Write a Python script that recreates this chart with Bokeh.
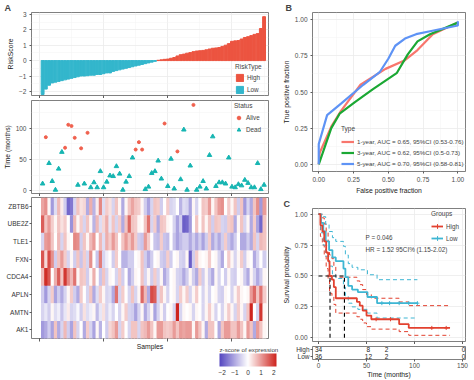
import numpy as np
from bokeh.plotting import figure
from bokeh.layouts import row, column
from bokeh.models import (ColumnDataSource, FixedTicker, Range1d, FactorRange, LinearColorMapper,
                          ColorBar, Label, Title, NumeralTickFormatter)
from bokeh.transform import transform
from bokeh.embed import file_html
from bokeh.resources import INLINE

# ---------------- data ----------------
risk_low = [-2.2, -1.85, -1.6, -1.45, -1.4, -1.35, -1.3, -1.25, -1.2, -1.15, -1.1, -1.05, -1.0, -1.0,
            -0.98, -0.95, -0.95, -0.9, -0.9, -0.85, -0.8, -0.8, -0.7, -0.65, -0.6, -0.55, -0.5, -0.45,
            -0.4, -0.35, -0.3, -0.25, -0.2, -0.15, -0.1, -0.05]
risk_high = [0.02, 0.05, 0.08, 0.1, 0.15, 0.2, 0.3, 0.38, 0.42, 0.48, 0.52, 0.58, 0.62, 0.64, 0.66,
             0.7, 0.75, 0.8, 0.82, 0.85, 0.92, 1.0, 1.1, 1.25, 1.28, 1.3, 1.4, 1.5, 1.55, 1.62, 1.7,
             1.75, 2.08, 2.85]

surv_time = [11, 86, 44, 15, 1, 35, 62, 69, 106, 104, 85, 9, 68, 11, 93, 5, 13, 5, 31, 5,
             14, 24, 23, 39, 27, 1, 14, 23, 53, 66, 78, 66, 2, 6, 28, 31, 48, 19, 108, 7,
             51, 3, 63, 18, 98, 1, 40, 138, 1, 6, 15, 3, 57, 87, 7, 13, 13, 11, 53, 6,
             5, 10, 8, 17, 12, 5, 5, 44, 2, 9]
surv_status = [1, 0, 1, 1, 1, 1, 1, 0, 0, 0, 0, 1, 0, 1, 0, 1, 1, 1, 1, 1,
               1, 1, 1, 1, 1, 1, 1, 1, 1, 0, 0, 0, 1, 1, 1, 1, 1, 1, 0, 1,
               1, 1, 0, 1, 1, 1, 1, 0, 1, 1, 1, 1, 1, 1, 1, 1, 1, 1, 1, 1,
               1, 1, 1, 1, 1, 1, 1, 1, 1, 1]  # 1 = Dead, 0 = Alive

genes = ["ZBTB6", "UBE2Z", "TLE1", "FXN", "CDCA4", "APLN", "AMTN", "AK1"]
expr_ZBTB6 = ([0.9, 1.1, 0.1, -1.2, -0.4, 0.7, 0.2, -0.6, -1.8, -1.6, -0.5, 0.6, 0.3, 0.4, -1.0, 0.8, -0.9, 0.2, 1.2, -0.4, 0.5, 0.3]
              + [-0.5, 0.6, 0.1, -1.0, 0.1, 0.6, 0.9, 0.6, 0.5, 0.1, -0.6, -1.1, -0.5, 0.6, 0.5, -0.6, 0.0, 0.5, -0.5, -0.4, 0.0, -0.9, -0.4]
              + [-0.5, -1.1, 0.1, -0.5, 0.0, 0.6, 0.5, 1.0, 0.1, 0.6, 1.0, 1.1, 0.0, 0.5, 0.1, 0.6, -0.6, 0.6, -1.2, -0.5, -1.0, 0.6, 1.1, -1.2, 1.0])
expr_UBE2Z = ([1.6, 0.6, 1.0, 0.5, 0.1, 0.6, 0.3, 0.5, 0.0, -1.3, 0.7, 0.1, 0.5, -0.5, 0.6, 0.1, -0.9, 0.7, -0.4, 0.4, 0.8, -0.3]
              + [0.6, -0.5, 0.5, -1.0, 0.6, 1.5, 0.6, 0.5, 0.1, 0.0, 0.6, 1.4, -0.5, 0.5, -1.0, 0.6, 0.5, 0.1, 0.0, -0.5, -1.1, -0.6, -1.9]
              + [-1.8, -1.2, 0.0, 0.6, 0.0, 0.6, 0.1, 0.6, -0.6, 0.6, 0.5, -0.5, -0.6, 0.5, 0.6, -1.0, 0.1, 0.6, -0.5, 0.1, -1.0, 0.5, -1.1, -1.8, 0.6])
expr_TLE1 = ([-0.5, 1.0, 1.1, 0.6, 0.0, 0.7, -0.5, 0.6, 0.1, 0.0, 1.2, 1.1, -0.6, 0.6, 0.1, 0.7, 1.0, 0.0, 0.7, -0.4, 0.8, 0.5]
             + [1.0, 0.6, 0.0, 0.6, 1.0, 0.6, 1.0, 0.5, -0.6, -0.7, 1.0, 0.5, 0.0, -0.7, -0.8, 0.5, -0.7, -0.8, 0.0, -0.7, -1.1, -0.8, -0.6]
             + [-0.6, -1.0, -0.6, -1.0, -0.6, -1.1, -0.6, 0.5, -1.0, -0.6, -1.0, -0.6, 0.5, -0.7, -1.0, -0.6, 0.0, -1.0, -1.0, -0.6, -1.0, 0.6, -0.5, 0.7, 0.6])
expr_FXN = ([1.7, 0.4, 1.8, 1.1, -0.6, 0.6, 1.0, 0.5, -0.5, 0.1, -0.6, 0.6, -0.7, 0.5, -0.5, 1.1, 0.0, -0.7, 1.3, -0.5, -0.2, 0.0]
            + [-0.6, 0.5, 0.0, -0.9, -0.9, -0.6, -0.6, 0.0, 0.1, 0.6, -0.6, -1.0, -0.6, 0.0, 0.1, -0.6, -0.7, 0.5, -0.6, 0.0, 0.1, -0.5, -0.6]
            + [0.1, -1.9, -0.6, 0.5, 0.1, 0.0, 0.1, 0.5, 0.0, 0.1, -0.5, -1.0, 0.0, 0.5, 0.1, -0.5, 0.1, 0.5, -0.6, 0.1, 0.0, -1.0, -0.5, 0.0, -0.6])
expr_CDCA4 = ([0.7, 2.1, 1.7, 0.0, 0.8, 1.6, 0.6, 2.0, 1.2, 0.7, 1.4, 0.1, 0.6, 0.5, -0.6, 0.1, 0.8, 0.0, -0.7, 0.6, -0.5, 0.1]
              + [0.0, -0.5, 0.5, -0.6, 0.0, -1.0, -0.6, 0.1, 0.0, 0.6, -0.5, 0.1, -0.6, 0.5, -0.5, 0.1, -1.0, -0.6, 0.0, 0.1, -0.5, -0.6, -1.0]
              + [-0.6, 0.1, -0.6, -1.0, 0.5, -0.6, 0.1, -0.6, -1.0, 0.1, -0.5, 0.0, -0.6, 0.1, -0.5, -0.6, 0.0, 0.1, -0.6, -1.0, 0.1, -0.5, -1.0, -0.6, 0.1])
expr_APLN = ([-0.6, -1.2, -0.5, 0.5, -1.1, -0.6, -1.0, -0.5, 0.1, 0.5, -0.6, -1.0, 0.5, 0.0, -0.5, 0.6, -1.0, -0.4, 0.5, 0.1, -0.5, -0.4]
             + [-1.0, 1.4, -0.5, 0.5, 0.0, -0.5, 0.6, -0.5, 0.1, 1.5, 0.7, -1.0, 1.8, 1.6, -0.5, 0.6, 0.1, -0.5, 0.0, 0.1, -0.5, 0.5, 0.1]
             + [0.5, -0.5, 0.1, 0.5, 0.0, -0.5, 0.1, -0.5, 0.0, 0.1, -0.5, -0.6, 0.1, 0.0, -0.5, 0.1, 0.5, 0.1, 0.0, 0.1, 1.0, 1.5, 0.6, 1.4, 0.5])
expr_AMTN = ([-0.5, -0.3, -0.6, 0.1, -0.4, -0.2, -0.7, -0.3, 0.2, -0.5, -0.4, -0.1, -0.6, 0.3, -0.4, -0.2, 0.1, -0.8, -0.3, 0.3, -0.5, -0.2]
             + [-0.5, 0.0, -0.5, 0.1, 0.5, -0.5, -0.6, -1.1, -0.5, 0.1, -1.0, -0.5, 0.1, -1.1, -0.5, 0.1, -0.6, 0.0, 0.1, -0.5, 2.3, -0.5, 0.1]
             + [0.0, 0.1, -0.5, 0.1, 0.0, -0.5, 0.1, 0.5, 0.1, -0.5, 0.0, -0.5, 0.1, 0.5, 0.1, -0.5, 0.5, 0.1, -0.5, 0.6, 2.3, 0.0, -0.5, 2.0, 0.1])
expr_AK1 = ([-1.2, -1.0, -0.6, -1.1, 0.6, -1.0, -0.5, 0.7, -0.6, -1.1, 0.6, -0.5, 0.0, -1.0, 0.5, -0.5, -1.1, 0.1, -0.9, 0.0, -0.6, 0.4]
            + [0.6, 1.0, -0.5, 0.5, 0.0, -0.5, 0.6, 0.6, -0.5, 0.6, 0.7, 1.0, 0.6, 0.1, 1.0, 1.0, 0.6, 0.5, 0.6, 1.0, 0.6, 1.0, 0.9]
            + [1.0, 1.0, 0.1, 1.0, 0.6, 0.1, -1.0, 0.6, 0.6, 0.0, -1.0, 0.6, 1.0, 1.0, 0.6, 0.6, 1.0, 0.6, 0.1, 1.0, 0.6, -1.0, 1.0, 0.6, 0.1])
expr = {"ZBTB6": expr_ZBTB6, "UBE2Z": expr_UBE2Z, "TLE1": expr_TLE1, "FXN": expr_FXN,
        "CDCA4": expr_CDCA4, "APLN": expr_APLN, "AMTN": expr_AMTN, "AK1": expr_AK1}

roc_fpr_1y = [0, 0.007, 0.09, 0.16, 0.30, 0.48, 0.62, 0.71, 0.82, 1.0]
roc_tpr_1y = [0, 0.08, 0.26, 0.37, 0.55, 0.66, 0.72, 0.79, 0.90, 0.98]
roc_fpr_3y = [0, 0.09, 0.15, 0.26, 0.39, 0.56, 0.64, 0.71, 0.80, 1.0]
roc_tpr_3y = [0, 0.25, 0.35, 0.43, 0.52, 0.63, 0.76, 0.85, 0.90, 0.98]
roc_fpr_5y = [0, 0, 0.06, 0.16, 0.32, 0.44, 0.50, 0.55, 0.62, 0.70, 0.80, 1.0, 1.0]
roc_tpr_5y = [0, 0.14, 0.34, 0.42, 0.55, 0.64, 0.73, 0.82, 0.87, 0.90, 0.92, 0.96, 0.99]
roc_labels = ["1-year, AUC = 0.65, 95%CI (0.53-0.76)",
              "3-year, AUC = 0.62, 95%CI (0.5-0.73)",
              "5-year, AUC = 0.70, 95%CI (0.58-0.81)"]

km_high_t = [0, 2, 4, 6, 8, 10, 11.5, 14, 16, 18, 40, 43, 46, 50, 55, 84, 94, 137]
km_high_s = [1.0, 0.91, 0.86, 0.78, 0.69, 0.62, 0.50, 0.47, 0.41, 0.32, 0.29, 0.26, 0.22, 0.18, 0.15, 0.11, 0.08, 0.08]
km_high_up = [1.0, 1.0, 0.97, 0.92, 0.85, 0.78, 0.67, 0.64, 0.58, 0.49, 0.46, 0.43, 0.39, 0.35, 0.32, 0.29, 0.26, 0.26]
km_high_lo = [1.0, 0.82, 0.75, 0.66, 0.56, 0.48, 0.36, 0.33, 0.27, 0.20, 0.17, 0.15, 0.12, 0.09, 0.07, 0.05, 0.02, 0.02]
km_low_t = [0, 2.5, 5, 7.5, 11, 14.5, 18, 26, 28, 31, 35, 41, 51, 61, 103]
km_low_s = [1.0, 0.93, 0.86, 0.78, 0.71, 0.65, 0.62, 0.56, 0.49, 0.42, 0.39, 0.37, 0.33, 0.28, 0.28]
km_low_up = [1.0, 1.0, 0.98, 0.92, 0.86, 0.81, 0.78, 0.74, 0.67, 0.60, 0.57, 0.55, 0.51, 0.47, 0.47]
km_low_lo = [1.0, 0.85, 0.75, 0.66, 0.58, 0.51, 0.48, 0.41, 0.34, 0.28, 0.25, 0.23, 0.20, 0.16, 0.16]
cens_high_t = [60, 75, 118, 133]
cens_high_s = [0.15, 0.15, 0.08, 0.08]
cens_low_t = [66, 74, 84, 94, 103]
cens_low_s = [0.28, 0.28, 0.28, 0.28, 0.28]
median_high = 12
median_low = 27
risk_table_t = [0, 52, 71, 151]
risk_table_high = [34, 8, 2, 0]
risk_table_low = [36, 12, 2, 0]

# ---------------- style ----------------
FONT = "Liberation Sans"
TICK = "6.5px"
TITLE = "6.8px"
RED_BAR, CYAN_BAR = "#EC5440", "#33B6CC"
RED_PT, CYAN_PT = "#F0604D", "#16B5B2"
KM_RED, KM_CYAN = "#E2412F", "#3EB6D3"


def style(p):
    p.outline_line_color = "#5F5F5F"
    p.outline_line_width = 0.8
    p.grid.grid_line_color = "#EBEBEB"
    p.grid.grid_line_width = 0.8
    p.grid.minor_grid_line_color = "#F3F3F3"
    p.grid.minor_grid_line_width = 0.5
    for ax in p.axis:
        ax.axis_line_color = None
        ax.major_tick_line_color = "#333333"
        ax.major_tick_line_width = 0.8
        ax.major_tick_out = 2
        ax.major_tick_in = 0
        ax.minor_tick_line_color = None
        ax.major_label_text_font = FONT
        ax.major_label_text_font_size = TICK
        ax.major_label_text_color = "#4D4D4D"
        ax.major_label_standoff = 1
        ax.axis_label_text_font = FONT
        ax.axis_label_text_font_size = TITLE
        ax.axis_label_text_font_style = "normal"
        ax.axis_label_text_color = "#1A1A1A"
        ax.axis_label_standoff = 2


def ticks_only(p, ticks, minor):
    """x axis with tick marks but no tick labels (ticks drawn as minor ticks)."""
    ax = p.xaxis[0]
    ax.ticker = FixedTicker(ticks=[], minor_ticks=ticks)
    ax.minor_tick_line_color = "#333333"
    ax.minor_tick_line_width = 0.8
    ax.minor_tick_out = 3
    ax.minor_tick_in = 0
    ax.major_tick_out = 3
    p.xgrid.ticker = FixedTicker(ticks=ticks, minor_ticks=minor)


def style_legend(lg, title, gw, gh):
    lg.title = title
    lg.title_text_font = FONT
    lg.title_text_font_size = "6.5px"
    lg.title_text_font_style = "normal"
    lg.title_standoff = 3
    lg.label_text_font = FONT
    lg.label_text_font_size = "6.3px"
    lg.label_standoff = 3
    lg.label_height = gh
    lg.glyph_width = gw
    lg.glyph_height = gh
    lg.background_fill_alpha = 0
    lg.border_line_color = None
    lg.padding = 1
    lg.spacing = 1
    lg.margin = 0


def letter(p, txt, off):
    p.add_layout(Title(text=txt, align="left", offset=off, standoff=0, text_font=FONT,
                       text_font_size="9px", text_font_style="bold"), "above")


common = dict(output_backend="svg", toolbar_location=None)
samples = list(range(1, 71))

# ---------------- A1: risk score ----------------
p1 = figure(width=279, height=98, x_range=Range1d(-2.46, 71.38), y_range=Range1d(-2.265, 3.12),
            min_border_left=28, min_border_right=11, min_border_top=6, min_border_bottom=3, **common)
n_low = len(risk_low)
p1.vbar(x=samples[n_low:], top=risk_high, width=0.9, color=RED_BAR, legend_label="High")
p1.vbar(x=samples[:n_low], top=risk_low, width=0.9, color=CYAN_BAR, legend_label="Low")
style(p1)
ticks_only(p1, [0, 20, 40, 60], [10, 30, 50, 70])
p1.yaxis.ticker = FixedTicker(ticks=[-2, -1, 0, 1, 2, 3], minor_ticks=[-1.5, -0.5, 0.5, 1.5, 2.5])
p1.yaxis.axis_label = "RiskScore"
style_legend(p1.legend[0], "RiskType", 9, 9)
p1.legend.spacing = 3
p1.legend.location = "bottom_right"
p1.legend.margin = 1
letter(p1, "A", -27)

# ---------------- A2: survival time ----------------
p2 = figure(width=279, height=98, x_range=p1.x_range, y_range=Range1d(-4.8, 145.1),
            min_border_left=28, min_border_right=11, min_border_top=2, min_border_bottom=3, **common)
alive_x = [s for s, st in zip(samples, surv_status) if st == 0]
alive_y = [t for t, st in zip(surv_time, surv_status) if st == 0]
dead_x = [s for s, st in zip(samples, surv_status) if st == 1]
dead_y = [t for t, st in zip(surv_time, surv_status) if st == 1]
p2.scatter(alive_x, alive_y, marker="circle", size=3, color=RED_PT, legend_label="Alive")
p2.scatter(dead_x, dead_y, marker="triangle", size=4.5, color=CYAN_PT, legend_label="Dead")
style(p2)
ticks_only(p2, [0, 20, 40, 60], [10, 30, 50, 70])
p2.yaxis.ticker = FixedTicker(ticks=[0, 50, 100], minor_ticks=[25, 75, 125])
p2.yaxis.axis_label = "Time (months)"
style_legend(p2.legend[0], "Status", 9, 11)
p2.legend.location = "top_right"
p2.legend.margin = 2

# ---------------- A3: heatmap ----------------
r_lo, g_lo, b_lo = 84, 70, 192
r_hi, g_hi, b_hi = 206, 36, 30
pal = []
for i in range(256):
    t = i / 255 * 2 - 1
    if t < 0:
        a = -t
        c = (255 + (r_lo - 255) * a, 255 + (g_lo - 255) * a, 255 + (b_lo - 255) * a)
    else:
        c = (255 + (r_hi - 255) * t, 255 + (g_hi - 255) * t, 255 + (b_hi - 255) * t)
    pal.append("#%02x%02x%02x" % tuple(int(round(v)) for v in c))
mapper = LinearColorMapper(palette=pal, low=-2.2, high=2.2)

hx, hy, hv = [], [], []
for g in genes:
    for s, v in zip(samples, expr[g]):
        hx.append(s)
        hy.append(g)
        hv.append(v)
hsrc = ColumnDataSource(dict(x=hx, y=hy, v=hv))
p3 = figure(width=279, height=184, x_range=p1.x_range, y_range=FactorRange(*genes[::-1]),
            min_border_left=28, min_border_right=11, min_border_top=1, min_border_bottom=42, **common)
p3.rect(x="x", y="y", width=1, height=1, source=hsrc, fill_color=transform("v", mapper),
        line_color=None, dilate=True)
style(p3)
ticks_only(p3, [0, 20, 40, 60], [])
p3.grid.grid_line_color = None
p3.grid.minor_grid_line_color = None
p3.xaxis.axis_label = "Samples"
p3.xaxis.axis_label_standoff = 1
p3.yaxis.major_label_text_color = "#333333"
cb = ColorBar(color_mapper=mapper, orientation="horizontal", location=(188, -39), width=57, height=13,
              padding=0, title="z-score of expression", title_text_font=FONT, title_text_font_size="6.2px",
              title_text_font_style="normal", title_standoff=2, ticker=FixedTicker(ticks=[-2, -1, 0, 1, 2]),
              major_label_text_font=FONT, major_label_text_font_size="6.5px", major_label_text_color="#333333",
              major_tick_line_color=None, bar_line_color=None, label_standoff=3,
              background_fill_alpha=0, border_line_color=None)
p3.add_layout(cb)

# ---------------- B: ROC ----------------
p4 = figure(width=195, height=196, x_range=Range1d(-0.045, 1.055), y_range=Range1d(-0.05, 1.05),
            min_border_left=30, min_border_right=3, min_border_top=8, min_border_bottom=23, **common)
for fx, ty, col, lab in [(roc_fpr_1y, roc_tpr_1y, "#F8766D", roc_labels[0]),
                         (roc_fpr_3y, roc_tpr_3y, "#1BA834", roc_labels[1]),
                         (roc_fpr_5y, roc_tpr_5y, "#5E93F5", roc_labels[2])]:
    p4.line(fx, ty, color=col, line_width=2.2, legend_label=lab)
style(p4)
for ax in (p4.xaxis[0], p4.yaxis[0]):
    ax.ticker = FixedTicker(ticks=[0, 0.25, 0.5, 0.75, 1.0], minor_ticks=[0.125, 0.375, 0.625, 0.875])
    ax.formatter = NumeralTickFormatter(format="0.00")
p4.xaxis.axis_label = "False positive fraction"
p4.yaxis.axis_label = "True positive fraction"
style_legend(p4.legend[0], "Type", 13, 11)
p4.legend.label_text_font_size = "6.2px"
p4.legend.spacing = 0
p4.legend.title_standoff = 4
p4.legend.location = (29, 2)
letter(p4, "B", -27)

# ---------------- C: Kaplan-Meier ----------------
p5 = figure(width=195, height=148, x_range=Range1d(-6.25, 153.1), y_range=Range1d(-0.03, 1.046),
            min_border_left=33, min_border_right=9, min_border_top=11, min_border_bottom=3, **common)
p5.step(km_high_t, km_high_up, mode="after", color=KM_RED, line_width=1, line_dash="4 3")
p5.step(km_high_t, km_high_lo, mode="after", color=KM_RED, line_width=1, line_dash="4 3")
p5.step(km_low_t, km_low_up, mode="after", color=KM_CYAN, line_width=1, line_dash="4 3")
p5.step(km_low_t, km_low_lo, mode="after", color=KM_CYAN, line_width=1, line_dash="4 3")
p5.segment(x0=[0, median_high, median_low], y0=[0.5, 0, 0], x1=[median_low, median_high, median_low],
           y1=[0.5, 0.5, 0.5], color="black", line_width=1.1, line_dash="4 3")
p5.step(km_low_t, km_low_s, mode="after", color=KM_CYAN, line_width=1.8, legend_label="Low")
p5.step(km_high_t, km_high_s, mode="after", color=KM_RED, line_width=1.8, legend_label="High")
p5.scatter(cens_low_t, cens_low_s, marker="cross", size=4, color=KM_CYAN, line_width=1, legend_label="Low")
p5.scatter(cens_high_t, cens_high_s, marker="cross", size=4, color=KM_RED, line_width=1, legend_label="High")
style(p5)
ticks_only(p5, [0, 50, 100, 150], [25, 75, 125])
p5.yaxis.ticker = FixedTicker(ticks=[0, 0.25, 0.5, 0.75, 1.0], minor_ticks=[0.125, 0.375, 0.625, 0.875])
p5.yaxis.formatter = NumeralTickFormatter(format="0.00")
p5.yaxis.axis_label = "Survival probability"
style_legend(p5.legend[0], "Groups", 12, 12)
p5.legend.spacing = 0
items = list(p5.legend[0].items)
p5.legend[0].items = sorted(items, key=lambda it: 0 if it.label.value == "High" else 1)
p5.legend.location = (119, 97)
for txt, yy in [("P = 0.046", 0.813), ("HR = 1.52 95CI% (1.15-2.02)", 0.717)]:
    p5.add_layout(Label(x=49, y=yy, text=txt, text_font=FONT, text_font_size="6.3px",
                        text_baseline="middle"))
letter(p5, "C", -29)

# ---------------- C: risk table ----------------
p6 = figure(width=195, height=36, x_range=p5.x_range, y_range=FactorRange("Low", "High"),
            min_border_left=33, min_border_right=9, min_border_top=2, min_border_bottom=19, **common)
rt_src = ColumnDataSource(dict(x=risk_table_t + risk_table_t,
                               y=["High"] * len(risk_table_t) + ["Low"] * len(risk_table_t),
                               t=[str(v) for v in risk_table_high + risk_table_low]))
p6.text(x="x", y="y", text="t", source=rt_src, text_font_size="6.5px", text_align="center",
        text_baseline="middle", text_color="#222222", text_font={"value": FONT})
style(p6)
p6.grid.grid_line_color = None
p6.xaxis.ticker = FixedTicker(ticks=[0, 50, 100, 150])
p6.xaxis.axis_label = "Time (months)"
p6.xaxis.axis_label_standoff = 0
p6.yaxis.major_label_text_color = "#333333"

layout = row(column(p1, p2, p3), column(p4, p5, p6))
open("out.html", "w").write(file_html(layout, INLINE))
